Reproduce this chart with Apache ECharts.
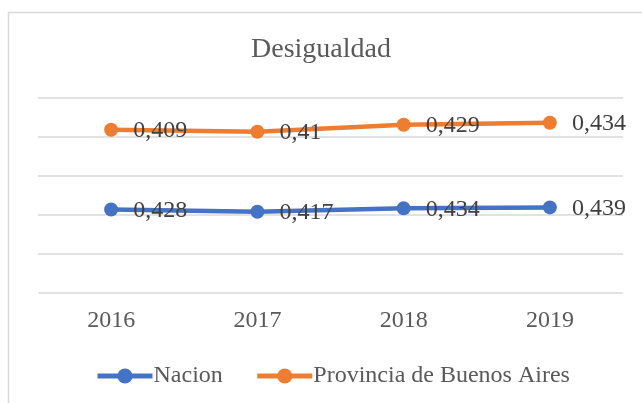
<!DOCTYPE html>
<html>
<head>
<meta charset="utf-8">
<script src="https://cdn.jsdelivr.net/npm/echarts@6/dist/echarts.min.js"></script>
<style>
html,body{margin:0;padding:0;background:#fff;}
#chart{width:642px;height:403px;}
</style>
</head>
<body>
<div id="chart"></div>
<script>
const titleText = 'Desigualdad';
const categories = ['2016', '2017', '2018', '2019'];
const nacion = [0.428, 0.417, 0.434, 0.439];
const provincia = [0.409, 0.41, 0.429, 0.434];
const seriesNames = ['Nacion', 'Provincia de Buenos Aires'];

const FONT = '"Liberation Serif", "Times New Roman", serif';
const fmt = v => String(v).replace('.', ',');

const chart = echarts.init(document.getElementById('chart'), null, {renderer: 'canvas'});
function mkSeries(name, data, color) {
  return {
    name: name,
    type: 'line',
    stack: 'total',
    data: data,
    symbol: 'circle',
    symbolSize: 14,
    lineStyle: {width: 4.5, color: color},
    itemStyle: {color: color},
    label: {
      show: true,
      position: 'right',
      distance: 15,
      offset: [0, 1],
      color: '#404040',
      fontFamily: FONT,
      fontSize: 24,
      formatter: p => fmt(p.value)
    },
    animation: false
  };
}
chart.setOption({
  animation: false,
  backgroundColor: '#fff',
  title: {
    text: titleText,
    left: 'center',
    top: 36,
    padding: 0,
    textStyle: {fontFamily: FONT, fontSize: 28, fontWeight: 'normal', color: '#595959'}
  },
  legend: {
    left: 95,
    top: 364,
    padding: 0,
    itemWidth: 55,
    itemHeight: 19,
    itemGap: 32,
    lineStyle: {width: 5},
    textStyle: {fontFamily: FONT, fontSize: 24, color: '#595959', padding: [0, 0, 0, -4]},
    data: seriesNames
  },
  grid: {left: 38, right: 19, top: 98, bottom: 110, containLabel: false},
  xAxis: {
    type: 'category',
    data: categories,
    boundaryGap: true,
    axisLine: {show: false},
    axisTick: {show: false},
    axisLabel: {fontFamily: FONT, fontSize: 24, color: '#595959', margin: 16}
  },
  yAxis: {
    type: 'value',
    min: 0,
    max: 1,
    interval: 0.2,
    axisLabel: {show: false},
    axisLine: {show: false},
    axisTick: {show: false},
    splitLine: {lineStyle: {color: '#d9d9d9', width: 1.5}}
  },
  graphic: [{
    type: 'rect',
    shape: {x: 8.5, y: 12.5, width: 800, height: 600},
    style: {fill: 'none', stroke: '#d9d9d9', lineWidth: 1.5},
    silent: true
  }],
  series: [
    mkSeries(seriesNames[0], nacion, '#4472C4'),
    mkSeries(seriesNames[1], provincia, '#ED7D31')
  ]
});
</script>
</body>
</html>
